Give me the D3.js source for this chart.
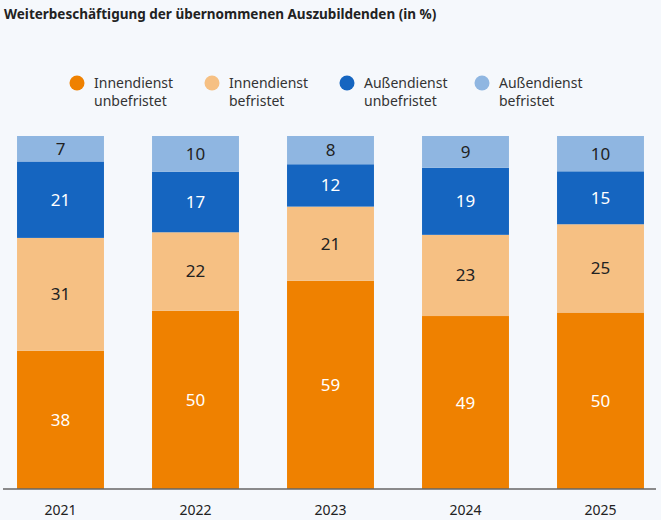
<!DOCTYPE html>
<html><head><meta charset="utf-8">
<script src="https://cdn.jsdelivr.net/npm/d3@7"></script>
<style>body{margin:0;background:#f5f8fc;font-family:"Noto Sans",sans-serif}</style>
</head><body><svg></svg>
<script>
// Data
const years = ["2021", "2022", "2023", "2024", "2025"];
const innenUnbefristet = [38, 50, 59, 49, 50];
const innenBefristet = [31, 22, 21, 23, 25];
const aussenUnbefristet = [21, 17, 12, 19, 15];
const aussenBefristet = [7, 10, 8, 9, 10];
const seriesNames = [["Innendienst", "unbefristet"], ["Innendienst", "befristet"], ["Außendienst", "unbefristet"], ["Außendienst", "befristet"]];
const colors = ["#ef8100", "#f6c083", "#1565c0", "#8fb6e1"];
const textColors = ["#fff", "#222", "#fff", "#222"];

const keys = ["a", "b", "c", "d"];
const rows = years.map((y, i) => ({year: y, a: innenUnbefristet[i], b: innenBefristet[i], c: aussenUnbefristet[i], d: aussenBefristet[i]}));

const W = 661, H = 520;
const svg = d3.select("svg").attr("width", W).attr("height", H);

svg.append("text").attr("x", 4).attr("y", 19)
    .attr("font-size", 13.5).attr("font-weight", "bold").attr("fill", "#222")
    .text("Weiterbeschäftigung der übernommenen Auszubildenden (in %)");

const x = d3.scaleBand().domain(years).range([-7, 668]).paddingInner(0.356).paddingOuter(0.178);
const y = d3.scaleLinear().domain([0, 1]).range([489, 136]);

// each bar fills the full height (values are rounded)
const stack = d3.stack().keys(keys).offset(d3.stackOffsetExpand)(rows);

const g = svg.append("g");
stack.forEach((s, si) => {
    s.forEach((d, i) => {
        g.append("rect")
            .attr("x", x(years[i])).attr("width", x.bandwidth())
            .attr("y", y(d[1])).attr("height", y(d[0]) - y(d[1]))
            .attr("fill", colors[si]);
        g.append("text")
            .attr("x", x(years[i]) + x.bandwidth() / 2)
            .attr("y", (y(d[0]) + y(d[1])) / 2 + 6)
            .attr("text-anchor", "middle").attr("font-size", 17)
            .attr("fill", textColors[si])
            .text(rows[i][keys[si]]);
    });
});

// X axis
const ax = svg.append("g").attr("transform", "translate(0,489)")
    .call(d3.axisBottom(x).tickSize(0).tickPadding(16));
ax.select(".domain").remove();
ax.selectAll("text").attr("font-size", 14).attr("fill", "#222").attr("font-family", "Noto Sans");
svg.append("line").attr("x1", 3).attr("x2", 656).attr("y1", 489).attr("y2", 489)
    .attr("stroke", "#666").attr("stroke-width", 1.5);

// Legend
const legX = [77, 212, 347, 482];
seriesNames.forEach((n, i) => {
    const lg = svg.append("g").attr("transform", `translate(${legX[i]},83)`);
    lg.append("circle").attr("r", 7.5).attr("fill", colors[i]);
    lg.append("text").attr("x", 17).attr("y", 5).attr("font-size", 14).attr("fill", "#333").text(n[0]);
    lg.append("text").attr("x", 17).attr("y", 23).attr("font-size", 14).attr("fill", "#333").text(n[1]);
});
</script></body></html>
